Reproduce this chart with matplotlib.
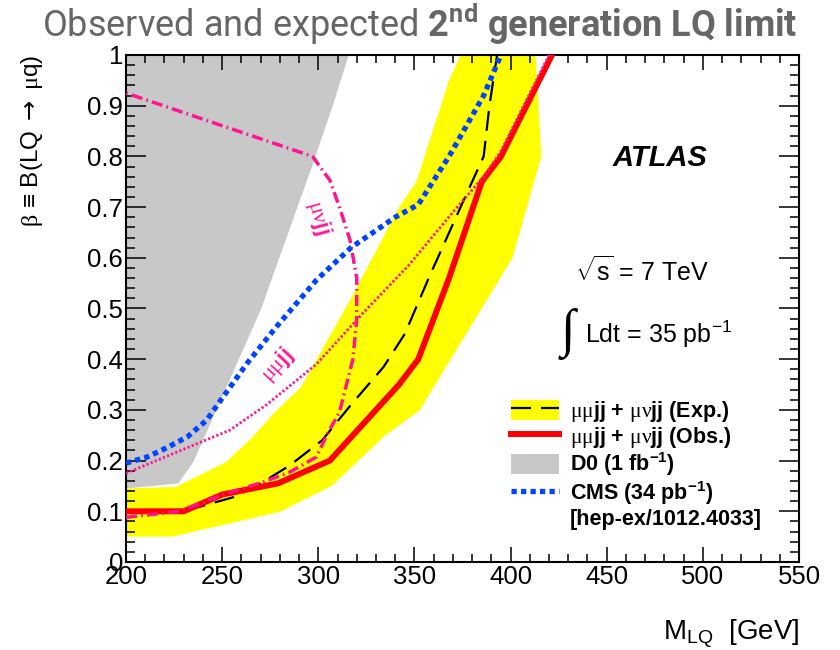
import matplotlib
matplotlib.use("Agg")
import numpy as np
import matplotlib.pyplot as plt
from matplotlib.patches import Patch
from matplotlib.lines import Line2D
from matplotlib.ticker import MultipleLocator, FuncFormatter

plt.rcParams['font.family'] = ['Liberation Sans', 'DejaVu Sans']
plt.rcParams['mathtext.fontset'] = 'custom'
plt.rcParams['mathtext.rm'] = 'Liberation Serif'
plt.rcParams['mathtext.it'] = 'Liberation Serif:italic'
plt.rcParams['mathtext.bf'] = 'Roboto:bold'
plt.rcParams['mathtext.sf'] = 'DejaVu Sans'

# ---- data: LQ mass [GeV] vs beta ----
# expected limit +-1 sigma band (left/upper edge and right/lower edge)
band_hi_mass = [200, 226, 252, 266, 277, 291, 317, 342, 351, 368, 374]
band_hi_beta = [0.145, 0.148, 0.197, 0.247, 0.294, 0.345, 0.52, 0.70, 0.75, 0.95, 1.0]
band_lo_mass = [200, 224, 280, 307, 334, 353, 356, 393, 401, 416, 413]
band_lo_beta = [0.05, 0.05, 0.099, 0.15, 0.247, 0.30, 0.32, 0.55, 0.60, 0.80, 1.0]

# expected and observed combined limits
exp_mass = [200, 230, 256, 270, 285, 302, 317, 334, 345, 358, 374, 386, 389, 393]
exp_beta = [0.10, 0.10, 0.128, 0.155, 0.19, 0.24, 0.31, 0.385, 0.45, 0.565, 0.70, 0.80, 0.90, 1.0]
obs_mass = [200, 230, 250, 279, 306, 342, 352, 368, 385, 395, 421.5]
obs_beta = [0.10, 0.10, 0.133, 0.155, 0.20, 0.35, 0.40, 0.56, 0.75, 0.80, 1.0]

# single-channel observed limits
mumu_mass = [200, 238, 254, 273, 299, 323, 347, 370, 386, 395, 420]
mumu_beta = [0.175, 0.235, 0.26, 0.31, 0.39, 0.49, 0.585, 0.69, 0.76, 0.81, 1.0]
munu_mass = [200, 228, 252, 270, 285, 299, 305, 311, 318, 320, 320, 316.5, 311, 306, 297, 200]
munu_beta = [0.088, 0.10, 0.135, 0.156, 0.177, 0.207, 0.255, 0.295, 0.40, 0.48, 0.56, 0.635, 0.70, 0.753, 0.80, 0.925]

# D0 excluded region boundary and CMS limit
d0_mass = [200, 227, 235, 270, 297, 307.6, 315.5]
d0_beta = [0.146, 0.156, 0.20, 0.50, 0.787, 0.905, 1.0]
cms_mass = [200, 211, 221, 232, 242, 250, 263, 278, 299, 317, 340, 352, 368, 386, 395]
cms_beta = [0.195, 0.207, 0.225, 0.247, 0.28, 0.323, 0.392, 0.463, 0.556, 0.62, 0.68, 0.705, 0.80, 0.92, 1.0]

x_range = (200, 550)
y_range = (0, 1)

YELLOW = '#ffff00'
RED = '#ff0000'
GRAY = '#c8c8c8'
BLUE = '#0044ff'
PINK = '#ff1493'

fig = plt.figure(figsize=(8.4, 6.5), dpi=100)
ax = fig.add_axes([0.15, 0.1354, 0.8012, 0.78])

# band
ax.fill(band_hi_mass + band_lo_mass[::-1], band_hi_beta + band_lo_beta[::-1],
        color=YELLOW, lw=0, zorder=1)
# D0 excluded region
ax.fill_betweenx(d0_beta, x_range[0], d0_mass, color=GRAY, lw=0, zorder=1.5)

ax.plot(exp_mass, exp_beta, color='k', lw=1.6, dashes=(9, 4.5), zorder=3)
ax.plot(obs_mass, obs_beta, color=RED, lw=4.3, solid_joinstyle='miter', zorder=4)
ax.plot(mumu_mass, mumu_beta, color=PINK, lw=2.0, dashes=(0.8, 0.8), zorder=5)
ax.plot(munu_mass, munu_beta, color=PINK, lw=2.5, dashes=(3.2, 1.2, 0.5, 1.2), zorder=5)
ax.plot(cms_mass, cms_beta, color=BLUE, lw=3.8, dashes=(1, 0.8), zorder=6)

ax.set_xlim(*x_range)
ax.set_ylim(*y_range)

ax.xaxis.set_major_locator(MultipleLocator(50))
ax.xaxis.set_minor_locator(MultipleLocator(10))
ax.yaxis.set_major_locator(MultipleLocator(0.1))
ax.yaxis.set_minor_locator(MultipleLocator(0.02))
ax.yaxis.set_major_formatter(FuncFormatter(lambda v, p: f"{v:g}"))
ax.tick_params(axis='both', which='both', direction='in', top=True, right=True,
               labelsize=18.5, width=1.1, pad=2)
ax.tick_params(axis='x', which='major', length=10.8)
ax.tick_params(axis='x', which='minor', length=5.8)
ax.tick_params(axis='y', which='major', length=14.4)
ax.tick_params(axis='y', which='minor', length=6.5)
for s in ax.spines.values():
    s.set_linewidth(1.5)

ax.set_xlabel(r"M$\mathregular{_{LQ}}$  [GeV]", fontsize=20, loc='right')
ax.xaxis.set_label_coords(1.0, -0.108)
ax.xaxis.label.set_va('top')
ax.set_ylabel(r"$\mathrm{\beta}$ ≡ B(LQ $\mathsf{\rightarrow}$ $\mathrm{\mu}$q)",
              fontsize=17.5, loc='top')
ax.yaxis.set_label_coords(-0.12, 1.0)

# channel labels
ax.text(300, 0.68, r"$\mathrm{\mu\nu}$jj", color=PINK, fontsize=16, fontweight='bold',
        rotation=-75, ha='center', va='center', zorder=7)
ax.text(278.5, 0.389, r"$\mathrm{\mu\mu}$jj", color=PINK, fontsize=16, fontweight='bold',
        rotation=47, ha='center', va='center', zorder=7)

# experiment labels
ax.text(0.7935, 0.797, "ATLAS", transform=ax.transAxes, fontsize=21,
        fontweight='bold', style='italic', ha='center', va='center')
ax.text(0.767, 0.574, r"$\sqrt{\mathregular{s}}$ = 7 TeV", transform=ax.transAxes,
        fontsize=18, ha='center', va='center')
ax.text(0.656, 0.45, "∫", transform=ax.transAxes, fontsize=38,
        family=['Liberation Serif', 'DejaVu Serif'], ha='center', va='center')
ax.text(0.682, 0.45, r"Ldt = 35 pb$\mathregular{^{-1}}$", transform=ax.transAxes,
        fontsize=18, ha='left', va='center')

# legend
h_exp = (Patch(facecolor=YELLOW, edgecolor='none'),
         Line2D([], [], color='k', lw=1.6, dashes=(9, 4.5)))
h_obs = Line2D([], [], color=RED, lw=4.3)
h_d0 = Patch(facecolor=GRAY, edgecolor='none')
h_cms = Line2D([], [], color=BLUE, lw=3.8, dashes=(1, 0.8))
h_ref = Line2D([], [], ls='none')
labels = [r"$\mathrm{\mu\mu}$jj + $\mathrm{\mu\nu}$jj (Exp.)",
          r"$\mathrm{\mu\mu}$jj + $\mathrm{\mu\nu}$jj (Obs.)",
          r"D0 (1 fb$\mathregular{^{-1}}$)",
          r"CMS (34 pb$\mathregular{^{-1}}$)",
          "[hep-ex/1012.4033]"]
leg = ax.legend([h_exp, h_obs, h_d0, h_cms, h_ref], labels,
                loc='upper left', bbox_to_anchor=(511 / 840, 1 - 399 / 650),
                bbox_transform=fig.transFigure, frameon=False, borderpad=0,
                borderaxespad=0, prop={'weight': 'bold', 'size': 15.5},
                handlelength=2.25, handleheight=1.05, handletextpad=0.5,
                labelspacing=0.03)

# title
fig.text(0.5, 1 - 24 / 650,
         r"Observed and expected $\mathbf{2^{nd}\ generation\ LQ\ limit}$",
         family='Roboto', fontsize=26, color='#666666', ha='center', va='center')

fig.savefig('out.png', dpi=100)
